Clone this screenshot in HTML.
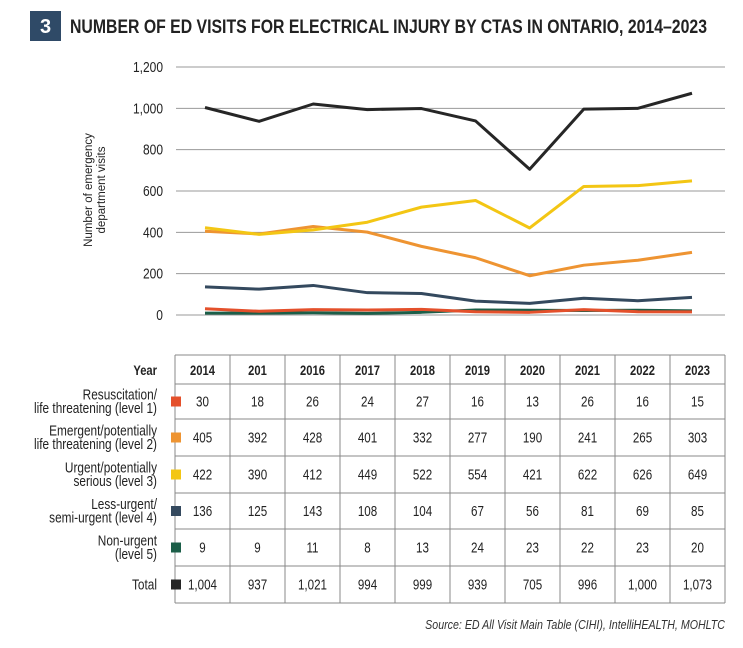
<!DOCTYPE html>
<html><head><meta charset="utf-8"><style>
body{margin:0;background:#fff;width:743px;height:643px;overflow:hidden;font-family:"Liberation Sans",sans-serif}
svg text{font-family:"Liberation Sans",sans-serif}
</style></head><body>
<svg width="743" height="643">
<rect x="30" y="11" width="31" height="30" fill="#2f4a67"/>
<text x="45.5" y="33" fill="#fff" font-size="20" font-weight="bold" text-anchor="middle">3</text>
<text x="70" y="33" fill="#222" font-size="19" font-weight="bold" textLength="637" lengthAdjust="spacingAndGlyphs">NUMBER OF ED VISITS FOR ELECTRICAL INJURY BY CTAS IN ONTARIO, 2014–2023</text>
<g id="grid"></g>
<g id="lines"></g>
<text transform="translate(92,190) rotate(-90)" font-size="11.5" text-anchor="middle" fill="#222"><tspan x="0" dy="0">Number of emergency</tspan><tspan x="0" dy="13">department visits</tspan></text>
<g id="table"></g>
<text x="725" y="629" font-size="13" font-style="italic" text-anchor="end" fill="#333" transform="translate(725 0) scale(0.82 1) translate(-725 0)">Source: ED All Visit Main Table (CIHI), IntelliHEALTH, MOHLTC</text>
</svg>
<script>
const years=["2014","201","2016","2017","2018","2019","2020","2021","2022","2023"];
const seriesNames=["Resuscitation/|life threatening (level 1)","Emergent/potentially|life threatening (level 2)","Urgent/potentially|serious (level 3)","Less-urgent/|semi-urgent (level 4)","Non-urgent|(level 5)","Total"];
const colors=["#e4502b","#ee9432","#f3c614","#34495e","#1b5e48","#262626"];
const level1=[30,18,26,24,27,16,13,26,16,15];
const level2=[405,392,428,401,332,277,190,241,265,303];
const level3=[422,390,412,449,522,554,421,622,626,649];
const level4=[136,125,143,108,104,67,56,81,69,85];
const level5=[9,9,11,8,13,24,23,22,23,20];
const total=[1004,937,1021,994,999,939,705,996,1000,1073];
const yTicks=[0,200,400,600,800,1000,1200];
const series=[level1,level2,level3,level4,level5,total];
const NS="http://www.w3.org/2000/svg";
const xS=i=>205+i*(692-205)/9;
const yS=v=>315-v*(248/1200);
const SC=0.8;
function mk(tag,attrs,parent){const e=document.createElementNS(NS,tag);for(const k in attrs)e.setAttribute(k,attrs[k]);parent.appendChild(e);return e;}
function txt(x,y,size,anchor,str,parent,bold){const t=mk('text',{x:x,y:y,'font-size':size,'text-anchor':anchor,fill:'#222',transform:`translate(${x} 0) scale(${SC} 1) translate(${-x} 0)`},parent);if(bold)t.setAttribute('font-weight','bold');t.textContent=str;return t;}
const grid=document.getElementById('grid');
yTicks.forEach(t=>{
 const l=mk('line',{x1:176,x2:725,y1:yS(t),y2:yS(t),stroke:'#9a9a9a','stroke-width':1},grid);
 
 
 const tx=txt(163,yS(t)+5,15,'end',t.toLocaleString('en-US'),grid);
 
 
});
const lg=document.getElementById('lines');
[4,0,3,1,2,5].forEach(s=>{
 const p=mk('polyline',{points:series[s].map((v,i)=>xS(i)+','+yS(v)).join(' '),fill:'none',stroke:colors[s],'stroke-width':3,'stroke-linejoin':'round'},lg);
 
 
});
const tb=document.getElementById('table');
const cx=[175,230,285,340,395,450,505,560,615,670,725];
const ry=[355,384,419,456,493,529,566,603];
cx.forEach(x=>{const l=mk('line',{x1:x,x2:x,y1:355,y2:603,stroke:'#888','stroke-width':1},tb);
 
 });
ry.forEach(y=>{const l=mk('line',{x1:175,x2:725,y1:y,y2:y,stroke:'#888','stroke-width':1},tb);
 
 });
const yl=txt(157,375,14,'end','Year',tb,true);


years.forEach((y,i)=>{const t=txt((cx[i]+cx[i+1])/2,375,14,'middle',y,tb,true);
 
 });
series.forEach((arr,s)=>{
 const mid=(ry[s+1]+ry[s+2])/2;
 const parts=seriesNames[s].split('|');
 parts.forEach((p,k)=>{const t=txt(157,mid+5+(parts.length>1?(k-0.5)*13.5:0),14.8,'end',p,tb);
  
  });
 const sq=mk('rect',{x:171,y:mid-5,width:10,height:10,fill:colors[s]},tb);
 
 
 arr.forEach((v,i)=>{const t=txt((cx[i]+cx[i+1])/2,mid+5,14.5,'middle',v.toLocaleString('en-US'),tb);
  
  });
});
</script>
</body></html>
